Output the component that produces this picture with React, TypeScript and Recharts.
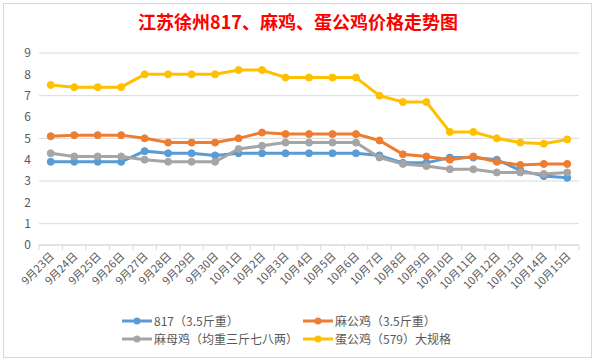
import React from "react";
import { LineChart, Line, XAxis, YAxis, CartesianGrid } from "recharts";

const dates = ["9月23日", "9月24日", "9月25日", "9月26日", "9月27日", "9月28日", "9月29日", "9月30日", "10月1日", "10月2日", "10月3日", "10月4日", "10月5日", "10月6日", "10月7日", "10月8日", "10月9日", "10月10日", "10月11日", "10月12日", "10月13日", "10月14日", "10月15日"];
const s817 = [3.9, 3.9, 3.9, 3.9, 4.4, 4.3, 4.3, 4.2, 4.3, 4.3, 4.3, 4.3, 4.3, 4.3, 4.2, 3.85, 3.85, 4.1, 4.1, 4.0, 3.5, 3.23, 3.15];
const maGong = [5.1, 5.15, 5.15, 5.15, 5.0, 4.8, 4.8, 4.8, 5.0, 5.27, 5.2, 5.2, 5.2, 5.2, 4.9, 4.25, 4.15, 4.0, 4.15, 3.9, 3.75, 3.8, 3.8];
const maMu = [4.3, 4.15, 4.15, 4.15, 4.0, 3.9, 3.9, 3.9, 4.5, 4.65, 4.8, 4.8, 4.8, 4.8, 4.1, 3.8, 3.7, 3.55, 3.55, 3.4, 3.4, 3.33, 3.4];
const danGong = [7.5, 7.4, 7.4, 7.4, 8.0, 8.0, 8.0, 8.0, 8.2, 8.2, 7.85, 7.85, 7.85, 7.85, 7.0, 6.7, 6.7, 5.3, 5.3, 5.0, 4.8, 4.75, 4.95];
const yTicks = [0, 1, 2, 3, 4, 5, 6, 7, 8, 9];

const series = [
  { key: "s817", name: "817（3.5斤重）", color: "#5b9bd5" },
  { key: "maGong", name: "麻公鸡（3.5斤重）", color: "#ed7d31" },
  { key: "maMu", name: "麻母鸡（均重三斤七八两）", color: "#a5a5a5" },
  { key: "danGong", name: "蛋公鸡（579）大规格", color: "#ffc000" },
];

const data = dates.map((d, i) => ({ date: d, s817: s817[i], maGong: maGong[i], maMu: maMu[i], danGong: danGong[i] }));

const FONT = "'Microsoft YaHei', 'Noto Sans CJK SC', sans-serif";
const W = 596, H = 361;
const M = { top: 53, right: 17, left: 9, bottom: 56 };
const Y_W = 30;
const half = (W - M.left - Y_W - M.right) / dates.length / 2;

function XTick(props: any) {
  const { x, y, payload, index } = props;
  return (
    <g>
      <line x1={x - half} x2={x - half} y1={y} y2={y + 5} stroke="#d9d9d9" />
      {index === dates.length - 1 && <line x1={x + half} x2={x + half} y1={y} y2={y + 5} stroke="#d9d9d9" />}
      <text x={x + 4} y={y + 12} textAnchor="end" fontSize={11} fill="#595959" fontFamily={FONT} transform={`rotate(-45 ${x + 4} ${y + 12})`}>
        {payload.value}
      </text>
    </g>
  );
}

export default function App() {
  return (
    <div style={{ position: "absolute", left: 0, top: 0, width: W, height: H, background: "#fff", fontFamily: FONT }}>
      <div style={{ position: "absolute", left: 3, top: 3, width: 587, height: 353, border: "1px solid #d9d9d9" }} />
      <div style={{ position: "absolute", left: 0, top: 8, width: W, textAlign: "center", color: "#ff0000", fontSize: 18, fontWeight: "bold" }}>
        江苏徐州817、麻鸡、蛋公鸡价格走势图
      </div>
      <div style={{ position: "absolute", left: 0, top: 0 }}>
        <LineChart width={W} height={H} data={data} margin={M}>
          <CartesianGrid vertical={false} stroke="#d9d9d9" />
          <XAxis dataKey="date" interval={0} tickLine={false} tickSize={0} tickMargin={0} height={60} stroke="#d9d9d9"
            padding={{ left: half, right: half }} tick={<XTick />} />
          <YAxis domain={[0, 9]} ticks={yTicks} width={Y_W} axisLine={false} tickLine={false} tick={{ fill: "#595959", fontSize: 12, fontFamily: FONT }} />
          {series.map((s) => (
            <Line key={s.key} dataKey={s.key} name={s.name} stroke={s.color} strokeWidth={3} isAnimationActive={false}
              dot={{ r: 3.5, fill: s.color, stroke: s.color, strokeWidth: 1 }} />
          ))}
        </LineChart>
      </div>
      {series.map((s, i) => (
        <div key={s.key} style={{ position: "absolute", left: i % 2 === 0 ? 122 : 303, top: i < 2 ? 312 : 330, display: "flex", alignItems: "center", fontSize: 12, color: "#595959", whiteSpace: "nowrap" }}>
          <svg width={30} height={10} style={{ marginRight: 2 }}>
            <line x1={0} x2={30} y1={5} y2={5} stroke={s.color} strokeWidth={3} />
            <circle cx={15} cy={5} r={3.5} fill={s.color} />
          </svg>
          {s.name}
        </div>
      ))}
    </div>
  );
}
